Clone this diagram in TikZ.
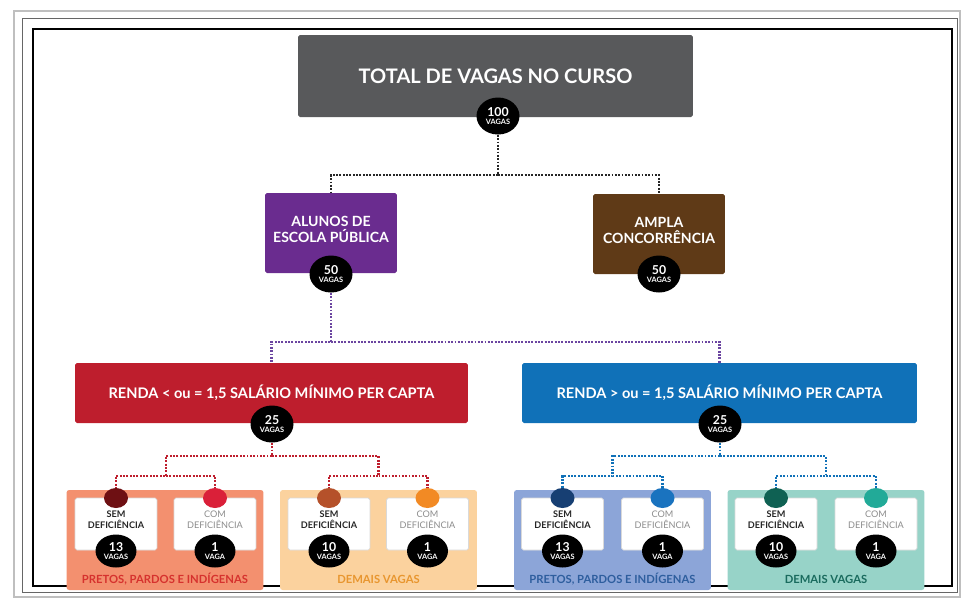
\documentclass[tikz,border=0pt]{standalone}
\usepackage{fontspec}
\setmainfont{Lato}
\usetikzlibrary{shapes.geometric}

\definecolor{titlegray}{HTML}{58595B}
\definecolor{pubpurple}{HTML}{6A2C8F}
\definecolor{amplabrown}{HTML}{5F3A17}
\definecolor{rendared}{HTML}{BE1E2D}
\definecolor{rendablue}{HTML}{1071B8}
\definecolor{grpsalmon}{HTML}{F3906F}
\definecolor{grppeach}{HTML}{FBD29E}
\definecolor{grpblue}{HTML}{8CA5D8}
\definecolor{grpteal}{HTML}{97D3C8}
\definecolor{dotdkred}{HTML}{6E1013}
\definecolor{dotcrimson}{HTML}{DA2039}
\definecolor{dotrust}{HTML}{B5512A}
\definecolor{dotorange}{HTML}{F28A24}
\definecolor{dotnavy}{HTML}{173F73}
\definecolor{dotblue}{HTML}{1A73BF}
\definecolor{dotdkteal}{HTML}{0F6153}
\definecolor{dotteal}{HTML}{22AA98}
\definecolor{labred}{HTML}{D6322E}
\definecolor{laborange}{HTML}{E8962F}
\definecolor{labblue}{HTML}{2E5E9E}
\definecolor{labteal}{HTML}{1A6B5E}
\definecolor{linepurple}{HTML}{6B45A0}

\newcommand{\vnum}[1]{{\fontsize{7}{7}\selectfont #1}}

\begin{document}
\begin{tikzpicture}[x=0.02cm, y=-0.02cm]
	\useasboundingbox (0,0) rectangle (963,600);
	\tikzstyle{box}=[rectangle, rounded corners=1pt, text=white, align=center, inner sep=0pt]
	\tikzstyle{badge}=[ellipse, fill=black, text=white, minimum width=0.86cm, minimum height=0.74cm, inner sep=0pt, align=center, font=\fontsize{4.2}{4.2}\selectfont\bfseries]
	\tikzstyle{smallbadge}=[badge, minimum width=0.82cm, minimum height=0.66cm]
	\tikzstyle{grp}=[rectangle, rounded corners=1.5pt, minimum width=3.94cm, minimum height=2cm]
	\tikzstyle{inbox}=[rectangle, rounded corners=1pt, fill=white, draw=black!15, minimum width=1.64cm, minimum height=1.04cm, align=center, inner sep=0pt, text depth=5pt]
	\tikzstyle{sem}=[font=\fontsize{5.2}{5.8}\selectfont\bfseries, text=black!85]
	\tikzstyle{com}=[font=\fontsize{5.2}{5.8}\selectfont, text=black!45]
	\tikzstyle{dot}=[ellipse, minimum width=0.48cm, minimum height=0.4cm, inner sep=0pt]
	\tikzstyle{grplabel}=[font=\fontsize{6.4}{7}\selectfont\bfseries, inner sep=0pt]
	\tikzstyle{dots}=[line width=1.6pt, dash pattern=on 1.1pt off 0.8pt]

	% scan frame
	\draw[black!25, line width=0.6pt] (14,11) rectangle (960,597);
	\draw[black!60, line width=0.5pt] (22,18) rectangle (957,592);
	\draw[black, line width=0.9pt] (33,29) rectangle (952,586);

	% level 1
	\node[box, fill=titlegray, minimum width=7.9cm, minimum height=1.64cm, font=\fontsize{11.4}{13}\selectfont\bfseries] (total) at (495.5,76) {TOTAL DE VAGAS NO CURSO};
	\node[badge] (b100) at (498,116) {\vnum{100}\\VAGAS};

	% level 2
	\node[box, fill=pubpurple, minimum width=2.64cm, minimum height=1.6cm, font=\fontsize{8}{9.4}\selectfont\bfseries, text depth=4pt] (publica) at (331,233) {ALUNOS DE\\ESCOLA PÚBLICA};
	\node[box, fill=amplabrown, minimum width=2.64cm, minimum height=1.6cm, font=\fontsize{8}{9.4}\selectfont\bfseries, text depth=4pt] (ampla) at (659,234) {AMPLA\\CONCORRÊNCIA};
	\node[badge] (b50a) at (331,274) {\vnum{50}\\VAGAS};
	\node[badge] (b50b) at (659,274) {\vnum{50}\\VAGAS};

	% level 3
	\node[box, fill=rendared, minimum width=7.86cm, minimum height=1.2cm, font=\fontsize{8.3}{9.6}\selectfont\bfseries] (rendaA) at (271.5,393) {RENDA < ou = 1,5 SALÁRIO MÍNIMO PER CAPTA};
	\node[box, fill=rendablue, minimum width=7.9cm, minimum height=1.2cm, font=\fontsize{8.3}{9.6}\selectfont\bfseries] (rendaB) at (719.5,393) {RENDA > ou = 1,5 SALÁRIO MÍNIMO PER CAPTA};
	\node[badge] (b25a) at (272,424) {\vnum{25}\\VAGAS};
	\node[badge] (b25b) at (720,424) {\vnum{25}\\VAGAS};

	% level 4 groups
	\node[grp, fill=grpsalmon] (gA) at (165,540) {};
	\node[grp, fill=grppeach] (gB) at (378.5,540) {};
	\node[grp, fill=grpblue] (gC) at (612.5,540) {};
	\node[grp, fill=grpteal] (gD) at (826,540) {};

	\node[inbox, sem] (iA1) at (116,524) {SEM\\DEFICIÊNCIA};
	\node[inbox, com] (iA2) at (215,524) {COM\\DEFICIÊNCIA};
	\node[inbox, sem] (iB1) at (329,524) {SEM\\DEFICIÊNCIA};
	\node[inbox, com] (iB2) at (427.5,524) {COM\\DEFICIÊNCIA};
	\node[inbox, sem] (iC1) at (562.5,524) {SEM\\DEFICIÊNCIA};
	\node[inbox, com] (iC2) at (662.5,524) {COM\\DEFICIÊNCIA};
	\node[inbox, sem] (iD1) at (776,524) {SEM\\DEFICIÊNCIA};
	\node[inbox, com] (iD2) at (876,524) {COM\\DEFICIÊNCIA};

	\node[dot, fill=dotdkred] (dA1) at (116,498) {};
	\node[dot, fill=dotcrimson] (dA2) at (215,498) {};
	\node[dot, fill=dotrust] (dB1) at (329,498) {};
	\node[dot, fill=dotorange] (dB2) at (427.5,498) {};
	\node[dot, fill=dotnavy] (dC1) at (562.5,498) {};
	\node[dot, fill=dotblue] (dC2) at (662.5,498) {};
	\node[dot, fill=dotdkteal] (dD1) at (776,498) {};
	\node[dot, fill=dotteal] (dD2) at (876,498) {};

	\node[smallbadge] (vA1) at (116,551) {\vnum{13}\\VAGAS};
	\node[smallbadge] (vA2) at (215,551) {\vnum{1}\\VAGA};
	\node[smallbadge] (vB1) at (329,551) {\vnum{10}\\VAGAS};
	\node[smallbadge] (vB2) at (427.5,551) {\vnum{1}\\VAGA};
	\node[smallbadge] (vC1) at (562.5,551) {\vnum{13}\\VAGAS};
	\node[smallbadge] (vC2) at (662.5,551) {\vnum{1}\\VAGA};
	\node[smallbadge] (vD1) at (776,551) {\vnum{10}\\VAGAS};
	\node[smallbadge] (vD2) at (876,551) {\vnum{1}\\VAGA};

	\node[grplabel, text=labred] (labA) at (165,579) {PRETOS, PARDOS E INDÍGENAS};
	\node[grplabel, text=laborange] (labB) at (378.5,579) {DEMAIS VAGAS};
	\node[grplabel, text=labblue] (labC) at (612.5,579) {PRETOS, PARDOS E INDÍGENAS};
	\node[grplabel, text=labteal] (labD) at (826,579) {DEMAIS VAGAS};

	% junctions
	\coordinate (j1) at (498,175);
	\coordinate (j2) at (331,342);
	\coordinate (j3a) at (272,456);
	\coordinate (j3b) at (720,456);
	\coordinate (j4a) at (166,476);
	\coordinate (j4b) at (378.5,476);
	\coordinate (j4c) at (612.5,476);
	\coordinate (j4d) at (826,476);

	% connectors
	\draw[dots, black!85] (b100.south) -- (j1) -| (publica.north);
	\draw[dots, black!85] (j1) -| (ampla.north);
	\draw[dots, linepurple] (b50a.south) -- (j2) -| (rendaA.north);
	\draw[dots, linepurple] (j2) -| (rendaB.north);
	\draw[dots, rendared] (b25a.south) -- (j3a) -| (j4a) -| (dA1.north);
	\draw[dots, rendared] (j4a) -| (dA2.north);
	\draw[dots, rendared] (j3a) -| (j4b) -| (dB1.north);
	\draw[dots, rendared] (j4b) -| (dB2.north);
	\draw[dots, rendablue] (b25b.south) -- (j3b) -| (j4c) -| (dC1.north);
	\draw[dots, rendablue] (j4c) -| (dC2.north);
	\draw[dots, rendablue] (j3b) -| (j4d) -| (dD1.north);
	\draw[dots, rendablue] (j4d) -| (dD2.north);
\end{tikzpicture}
\end{document}
